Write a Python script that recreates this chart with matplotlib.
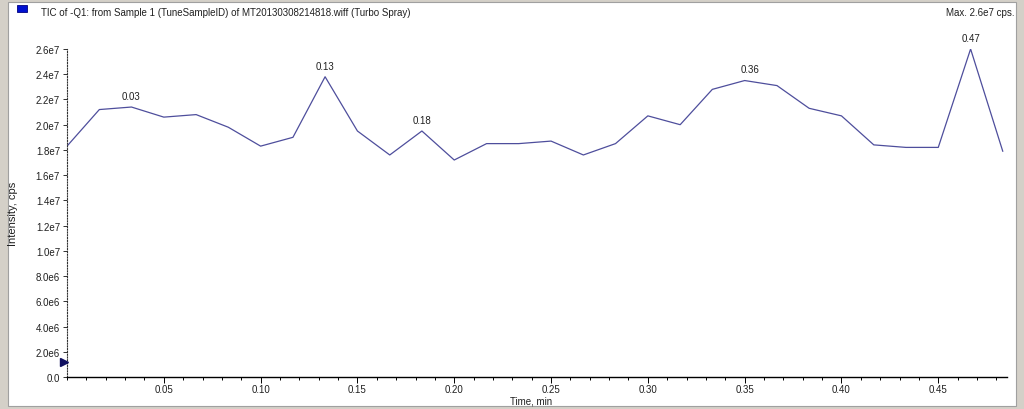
import matplotlib
matplotlib.use("Agg")
import matplotlib.pyplot as plt
import matplotlib.transforms as mtransforms
from matplotlib.patches import Rectangle
from matplotlib.ticker import MultipleLocator, FixedLocator

time_min = [0.0000, 0.0167, 0.0333, 0.0500, 0.0667, 0.0833, 0.1000, 0.1167, 0.1333, 0.1500,
            0.1667, 0.1833, 0.2000, 0.2167, 0.2333, 0.2500, 0.2667, 0.2833, 0.3000, 0.3167,
            0.3333, 0.3500, 0.3667, 0.3833, 0.4000, 0.4167, 0.4333, 0.4500, 0.4667, 0.4833]
intensity = [1.83e7, 2.12e7, 2.14e7, 2.06e7, 2.08e7, 1.98e7, 1.83e7, 1.90e7, 2.38e7, 1.95e7,
             1.76e7, 1.95e7, 1.72e7, 1.85e7, 1.85e7, 1.87e7, 1.76e7, 1.85e7, 2.07e7, 2.00e7,
             2.28e7, 2.35e7, 2.31e7, 2.13e7, 2.07e7, 1.84e7, 1.82e7, 1.82e7, 2.60e7, 1.79e7]
peak_labels = ["0.03", "0.13", "0.18", "0.36", "0.47"]
peak_times = [0.0333, 0.1333, 0.1833, 0.3530, 0.4667]
peak_values = [2.14e7, 2.38e7, 1.95e7, 2.36e7, 2.60e7]
y_ticks = [0, 2e6, 4e6, 6e6, 8e6, 1.0e7, 1.2e7, 1.4e7, 1.6e7, 1.8e7, 2.0e7, 2.2e7, 2.4e7, 2.6e7]
y_tick_labels = ["0.0", "2.0e6", "4.0e6", "6.0e6", "8.0e6", "1.0e7", "1.2e7", "1.4e7",
                 "1.6e7", "1.8e7", "2.0e7", "2.2e7", "2.4e7", "2.6e7"]
x_ticks = [0.05, 0.10, 0.15, 0.20, 0.25, 0.30, 0.35, 0.40, 0.45]
x_tick_labels = ["0.05", "0.10", "0.15", "0.20", "0.25", "0.30", "0.35", "0.40", "0.45"]
title_text = "TIC of -Q1: from Sample 1 (TuneSampleID) of MT20130308214818.wiff (Turbo Spray)"
max_text = "Max. 2.6e7 cps."
marker_value = 1.2e6

plt.rcParams['font.family'] = ['Liberation Sans', 'DejaVu Sans']
W, H = 1024, 410
fig = plt.figure(figsize=(W / 100, H / 100), dpi=100)
fig.patch.set_facecolor('#d4d0c8')

def px(x0, y0, w, h):
    return (x0 / W, 1 - (y0 + h) / H, w / W, h / H)

# white window area
bx = px(8, 3, 1008, 404)
fig.patches.append(Rectangle((bx[0], bx[1]), bx[2], bx[3], transform=fig.transFigure,
                             facecolor='white', edgecolor='#a0a0a0', lw=0.8, zorder=-2))
# blue square
sq = px(17, 6, 10, 7)
fig.patches.append(Rectangle((sq[0], sq[1]), sq[2], sq[3], transform=fig.transFigure,
                             facecolor='#0010d0', edgecolor='#000080', lw=0.6, zorder=-1))

fig.text(41 / W, 1 - 13 / H, title_text, fontsize=7, color='#202020', va='center', ha='left')
fig.text(1015 / W, 1 - 13 / H, max_text, fontsize=7, color='#202020', va='center', ha='right')

ax = fig.add_axes(px(67, 50, 940, 328))
ax.set_zorder(2)
ax.patch.set_alpha(0)
ax.plot(time_min, intensity, color='#4e4e9c', lw=0.9)
ax.set_xlim(0, 0.4855)
ax.set_ylim(0, 2.6e7)

for lab, t, v in zip(peak_labels, peak_times, peak_values):
    ax.annotate(lab, (t, v), xytext=(0, 4), textcoords='offset points', ha='center',
                va='bottom', fontsize=7, color='#202020')

for s in ['top', 'right']:
    ax.spines[s].set_visible(False)
ax.spines['left'].set_linestyle((0, (1, 1.5)))
ax.spines['left'].set_linewidth(0.8)
ax.spines['left'].set_color('#303030')
ax.spines['bottom'].set_linewidth(1.0)
ax.spines['bottom'].set_color('black')

ax.yaxis.set_major_locator(FixedLocator(y_ticks))
ax.set_yticklabels(y_tick_labels)
ax.xaxis.set_major_locator(FixedLocator(x_ticks))
ax.set_xticklabels(x_tick_labels)
ax.xaxis.set_minor_locator(MultipleLocator(0.01))
ax.tick_params(axis='y', length=3, width=0.7, pad=2, labelsize=7, labelcolor='#202020', color='#303030')
ax.tick_params(axis='x', which='major', length=4, width=0.7, pad=1, labelsize=7, labelcolor='#202020')
ax.tick_params(axis='x', which='minor', length=2, width=0.7)

# start marker on y axis
offs = mtransforms.ScaledTranslation(-3 / 100, 0, fig.dpi_scale_trans)
ax.plot([0], [marker_value], marker='>', markersize=6, color='#101060', clip_on=False,
        transform=ax.transData + offs, zorder=5)

fig.text(531 / W, 1 - 402 / H, "Time, min", fontsize=7, color='#202020', ha='center', va='center')
fig.text(13 / W, 1 - 214 / H, "Intensity, cps", fontsize=8, color='#202020', ha='center',
         va='center', rotation=90)

fig.savefig('out.png', dpi=100, facecolor=fig.get_facecolor())
